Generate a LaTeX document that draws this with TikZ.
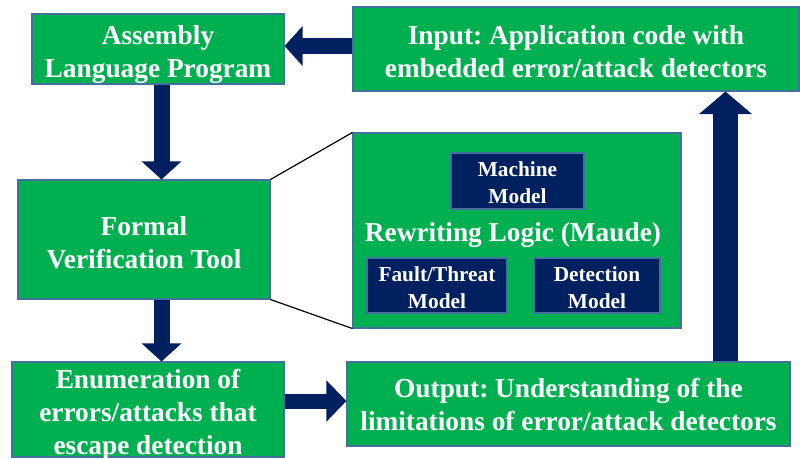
\documentclass[tikz,border=0pt]{standalone}
\usepackage{fontspec}
\setmainfont{Liberation Serif}
\frenchspacing
\usetikzlibrary{arrows.meta,calc}

\definecolor{vert}{HTML}{00B050}
\definecolor{marine}{HTML}{002060}
\definecolor{bord}{HTML}{41719C}

% etais pour descendre un peu le texte dans les boites
\newcommand{\haut}{\rule{0pt}{18.5pt}}
\newcommand{\hautm}{\rule{0pt}{14pt}}

\tikzset{
    boite/.style={draw=bord, line width=0.8pt, fill=vert, text=white, align=center,
        inner sep=0pt, text depth=-1.75pt,
        font=\bfseries\fontsize{20.5}{24.75}\selectfont},
    modele/.style={draw=bord, line width=0.8pt, fill=marine, text=white, align=center,
        inner sep=0pt, text depth=-0.4pt,
        font=\bfseries\fontsize{16}{20.25}\selectfont},
    fleche/.style={draw=marine, line width=12pt,
        -{Triangle[width=29pt, length=13.5pt]}},
}

\begin{document}
\begin{tikzpicture}[x=0.75pt, y=-0.75pt]
    % Cadre de l'image
    \useasboundingbox (0,0) rectangle (800,458);
    \clip (0,0) rectangle (800,458);

    % Boites principales
    \node[boite, minimum width=189pt, minimum height=52.5pt] (asm) at (158,49)
        {\haut Assembly\\Language Program};
    \node[boite, minimum width=334.5pt, minimum height=63pt] (input) at (576,49)
        {\haut Input: Application code with\\embedded error/attack detectors};
    \node[boite, minimum width=189pt, minimum height=89.25pt] (fvt) at (144,239.5)
        {\haut Formal\\Verification Tool};
    \node[boite, minimum width=204pt, minimum height=71.25pt] (enum) at (148,409.5)
        {\haut Enumeration of\\errors/attacks that\\escape detection};
    \node[boite, minimum width=332.25pt, minimum height=63pt] (output) at (568.5,404)
        {Output: Understanding of the\\limitations of error/attack detectors};

    % Zoom sur l'outil : logique de reecriture
    \node[boite, minimum width=246pt, minimum height=146.25pt] (rwl) at (517,230.5) {};
    \node[text=white, font=\bfseries\fontsize{20.5}{24.75}\selectfont] (rwltxt) at (513,235)
        {Rewriting Logic (Maude)};
    \node[modele, minimum width=99.75pt, minimum height=42pt] (machine) at (517.5,181)
        {\hautm Machine\\Model};
    \node[modele, minimum width=105pt, minimum height=41.25pt] (fault) at (437,285.5)
        {\hautm Fault/Threat\\Model};
    \node[modele, minimum width=94.5pt, minimum height=41.25pt] (detect) at (597,285.5)
        {\hautm Detection\\Model};
    \draw[line width=0.9pt] (fvt.north east) -- (rwl.north west);
    \draw[line width=0.9pt] (fvt.south east) -- (rwl.south west);

    % Fleches
    \coordinate (col) at (161.5,0);
    \coordinate (rcol) at (725.5,0);
    \coordinate (trow) at (0,46);
    \coordinate (brow) at (0,401);
    \draw[fleche] (input.west |- trow) -- (asm.east |- trow);
    \draw[fleche] (col |- asm.south) -- (col |- fvt.north);
    \draw[fleche] (col |- fvt.south) -- (col |- enum.north);
    \draw[fleche, line width=11.25pt, -{Triangle[width=30pt, length=15pt]}]
        (enum.east |- brow) -- (output.west |- brow);
    \draw[fleche, line width=18.75pt, -{Triangle[width=39pt, length=17pt]}]
        (rcol |- output.north) -- (rcol |- input.south);
\end{tikzpicture}
\end{document}
